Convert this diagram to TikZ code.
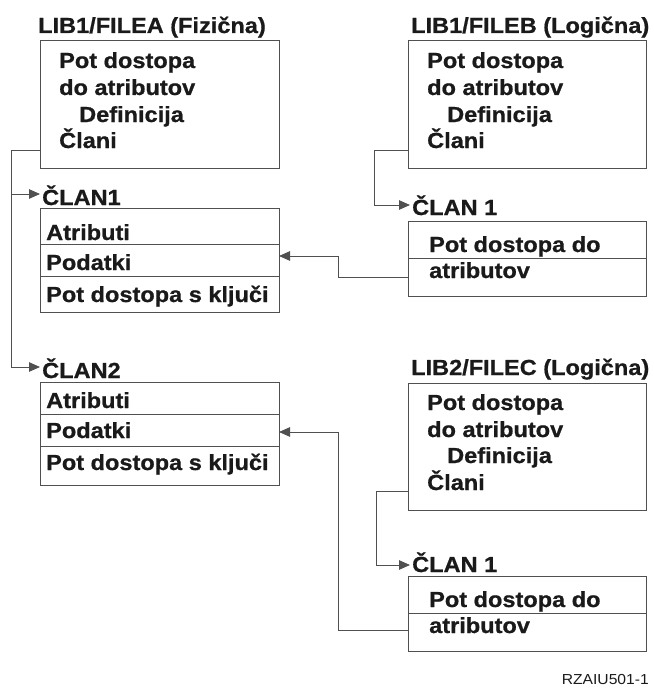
\documentclass[tikz,border=0pt]{standalone}
\usepackage{fontspec}
\setmainfont{Liberation Sans}[FakeStretch=1.08, BoldFeatures={FakeBold=0.8}]
\usetikzlibrary{arrows.meta}
\definecolor{boxgray}{HTML}{505050}
\definecolor{txtblack}{HTML}{1A1A1A}
\begin{document}
\begin{tikzpicture}[x=1pt,y=-1pt,
  box/.style={draw=boxgray, line width=1.1pt, anchor=north west, inner sep=0pt, minimum width=239pt},
  txt/.style={anchor=base west, inner sep=0pt, text=txtblack, font=\bfseries\fontsize{21.8}{26}\selectfont},
  note/.style={anchor=base east, inner sep=0pt, text=txtblack, font=\fontsize{14.5}{17}\selectfont},
  conn/.style={draw=boxgray, line width=1pt},
  arr/.style={conn, -{Triangle[length=11pt,width=9.5pt]}}]
\useasboundingbox (0,0) rectangle (653,690);

% ---------- LIB1/FILEA ----------
\node[txt] (tA) at (38,33) {LIB1/FILEA (Fizična)};
\node[box, minimum height=128pt] (fA) at (40,40) {};
\node[txt] (fA1) at (59,68) {Pot dostopa};
\node[txt] (fA2) at (59,95) {do atributov};
\node[txt] (fA3) at (79,122) {Definicija};
\node[txt] (fA4) at (59,148) {Člani};

% ---------- LIB1/FILEB ----------
\node[txt] (tB) at (411,33) {LIB1/FILEB (Logična)};
\node[box, minimum width=238pt, minimum height=128pt] (fB) at (408,40) {};
\node[txt] (fB1) at (427,68) {Pot dostopa};
\node[txt] (fB2) at (427,95) {do atributov};
\node[txt] (fB3) at (447,122) {Definicija};
\node[txt] (fB4) at (427,148) {Člani};

% ---------- ČLAN1 (FILEA) ----------
\node[txt] (lM1) at (42,205) {ČLAN1};
\node[box, minimum height=36pt] (m1a) at (40,208) {};
\node[box, minimum height=32pt] (m1b) at (40,244) {};
\node[box, minimum height=36pt] (m1c) at (40,276) {};
\node[txt] (m1at) at (46,240) {Atributi};
\node[txt] (m1bt) at (46,270) {Podatki};
\node[txt] (m1ct) at (46,302) {Pot dostopa s ključi};

% ---------- ČLAN2 (FILEA) ----------
\node[txt] (lM2) at (42,378) {ČLAN2};
\node[box, minimum height=32pt] (m2a) at (40,382) {};
\node[box, minimum height=32pt] (m2b) at (40,414) {};
\node[box, minimum height=39pt] (m2c) at (40,446) {};
\node[txt] (m2at) at (46,408) {Atributi};
\node[txt] (m2bt) at (46,438) {Podatki};
\node[txt] (m2ct) at (46,470) {Pot dostopa s ključi};

% ---------- ČLAN 1 (FILEB) ----------
\node[txt] (lB1) at (412,215) {ČLAN 1};
\node[box, minimum width=238pt, minimum height=37pt] (bm1a) at (408,221) {};
\node[box, minimum width=238pt, minimum height=38pt] (bm1b) at (408,258) {};
\node[txt] (bm1at) at (429,252) {Pot dostopa do};
\node[txt] (bm1bt) at (429,278) {atributov};

% ---------- LIB2/FILEC ----------
\node[txt] (tC) at (411,375) {LIB2/FILEC (Logična)};
\node[box, minimum width=238pt, minimum height=127pt] (fC) at (408,383) {};
\node[txt] (fC1) at (427,410) {Pot dostopa};
\node[txt] (fC2) at (427,437) {do atributov};
\node[txt] (fC3) at (447,463) {Definicija};
\node[txt] (fC4) at (427,490) {Člani};

% ---------- ČLAN 1 (FILEC) ----------
\node[txt] (lC1) at (412,572) {ČLAN 1};
\node[box, minimum width=238pt, minimum height=37pt] (cm1a) at (408,576) {};
\node[box, minimum width=238pt, minimum height=38pt] (cm1b) at (408,613) {};
\node[txt] (cm1at) at (429,607) {Pot dostopa do};
\node[txt] (cm1bt) at (429,633) {atributov};

\node[note] (id) at (649,684) {RZAIU501-1};

% ---------- connectors ----------
\coordinate (aOut) at (40,150);
\coordinate (aK1) at (11,150);
\coordinate (aK2) at (11,194);
\coordinate (aK3) at (11,367);
\coordinate (aT1) at (40,194);
\coordinate (aT2) at (40,367);
\draw[conn] (aOut) -- (aK1) -- (aK3);
\draw[arr] (aK2) -- (aT1);
\draw[arr] (aK3) -- (aT2);

\coordinate (bOut) at (408,150);
\coordinate (bK1) at (374,150);
\coordinate (bK2) at (374,205);
\coordinate (bT) at (410,205);
\draw[arr] (bOut) -- (bK1) -- (bK2) -- (bT);

\coordinate (cOut) at (408,491);
\coordinate (cK1) at (376,491);
\coordinate (cK2) at (376,565);
\coordinate (cT) at (410,565);
\draw[arr] (cOut) -- (cK1) -- (cK2) -- (cT);

\coordinate (bmOut) at (408,277);
\coordinate (bmK1) at (338,277);
\coordinate (bmK2) at (338,256);
\coordinate (bmT) at (279,256);
\draw[arr] (bmOut) -- (bmK1) -- (bmK2) -- (bmT);

\coordinate (cmOut) at (408,630);
\coordinate (cmK1) at (338,630);
\coordinate (cmK2) at (338,432);
\coordinate (cmT) at (279,432);
\draw[arr] (cmOut) -- (cmK1) -- (cmK2) -- (cmT);
\end{tikzpicture}
\end{document}
